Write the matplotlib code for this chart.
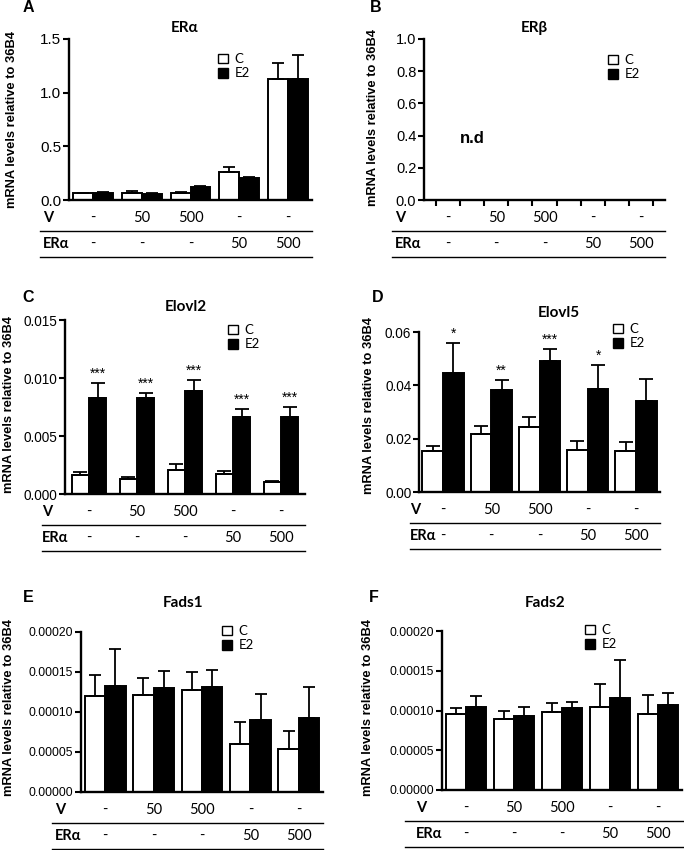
import numpy as np
import matplotlib
matplotlib.use('Agg')
import matplotlib.pyplot as plt
from matplotlib.patches import Patch
from matplotlib.lines import Line2D
from matplotlib import transforms

plt.rcParams['font.family'] = ['Liberation Sans', 'DejaVu Sans']

W, H = 684, 850

# ---------------- data ----------------
series_names = ['C', 'E2']
v_labels = ['-', '50', '500', '-', '-']
era_labels = ['-', '-', '-', '50', '500']

era_c = [0.062, 0.068, 0.065, 0.26, 1.13]
era_c_err = [0.004, 0.018, 0.006, 0.045, 0.15]
era_e2 = [0.068, 0.059, 0.117, 0.205, 1.13]
era_e2_err = [0.003, 0.003, 0.013, 0.006, 0.225]

elovl2_c = [0.00164, 0.0013, 0.0021, 0.0017, 0.0010]
elovl2_c_err = [0.00026, 0.0002, 0.0005, 0.0003, 0.0001]
elovl2_e2 = [0.0083, 0.00825, 0.0089, 0.0066, 0.0066]
elovl2_e2_err = [0.0013, 0.0005, 0.0009, 0.00076, 0.0009]
elovl2_stars = ['***', '***', '***', '***', '***']

elovl5_c = [0.0155, 0.0216, 0.0244, 0.0159, 0.0154]
elovl5_c_err = [0.0018, 0.0032, 0.0036, 0.0034, 0.0032]
elovl5_e2 = [0.0448, 0.0381, 0.0490, 0.0386, 0.0343]
elovl5_e2_err = [0.0111, 0.0038, 0.0045, 0.0092, 0.0082]
elovl5_stars = ['*', '**', '***', '*', '']

fads1_c = [1.20e-4, 1.21e-4, 1.28e-4, 0.60e-4, 0.54e-4]
fads1_c_err = [0.26e-4, 0.22e-4, 0.22e-4, 0.27e-4, 0.22e-4]
fads1_e2 = [1.33e-4, 1.30e-4, 1.31e-4, 0.90e-4, 0.92e-4]
fads1_e2_err = [0.46e-4, 0.21e-4, 0.22e-4, 0.33e-4, 0.39e-4]

fads2_c = [0.956e-4, 0.893e-4, 0.977e-4, 1.045e-4, 0.958e-4]
fads2_c_err = [0.08e-4, 0.105e-4, 0.12e-4, 0.29e-4, 0.24e-4]
fads2_e2 = [1.044e-4, 0.931e-4, 1.031e-4, 1.160e-4, 1.075e-4]
fads2_e2_err = [0.143e-4, 0.117e-4, 0.076e-4, 0.48e-4, 0.14e-4]

# ---------------- figure ----------------
fig = plt.figure(figsize=(W / 100, H / 100), dpi=100)
CAL = ['Lato', 'Noto Sans', 'DejaVu Sans']


def fx(x):
    return x / W


def fy(y):
    return 1 - y / H


def panel(rect, title, title_xy, letter, letter_xy, ylabel_xy, legend_xy,
          row_x, line_x0, line_x1, ylim, yticks, yfmt, tick_fs,
          c=None, c_err=None, e2=None, e2_err=None, width=0.42,
          stars=None, capsize=4, bar_ticks=False, nd=False):
    x0, x1, yt, yb = rect
    ax = fig.add_axes([fx(x0), fy(yb), (x1 - x0) / W, (yb - yt) / H])
    x = np.arange(len(v_labels))
    ax.set_xlim(-0.5, len(v_labels) - 0.5)
    ax.set_ylim(*ylim)
    if c is not None:
        ax.bar(x - width / 2, c, width, color='white', edgecolor='black',
               linewidth=1.4, zorder=2)
        ax.bar(x + width / 2, e2, width, color='black', edgecolor='black',
               linewidth=1.4, zorder=2)
        ax.errorbar(x - width / 2, c, yerr=[np.zeros(len(c)), c_err], fmt='none',
                    ecolor='black', elinewidth=1.3, capsize=capsize, capthick=1.3,
                    zorder=3)
        ax.errorbar(x + width / 2, e2, yerr=[np.zeros(len(e2)), e2_err], fmt='none',
                    ecolor='black', elinewidth=1.3, capsize=capsize, capthick=1.3,
                    zorder=3)
    if stars is not None:
        for i, s in enumerate(stars):
            if s:
                ax.annotate(s, xy=(x[i] + width / 2, e2[i] + e2_err[i]),
                            xytext=(0, 1.5), textcoords='offset points',
                            ha='center', va='bottom', fontsize=10)
    for s in ['top', 'right']:
        ax.spines[s].set_visible(False)
    for s in ['left', 'bottom']:
        ax.spines[s].set_linewidth(1.7)
    ax.set_yticks(yticks)
    ax.set_yticklabels([yfmt.format(v) for v in yticks])
    ax.tick_params(axis='y', direction='out', length=4, width=1.5,
                   labelsize=tick_fs, pad=1.5)
    if bar_ticks:
        ax.set_xticks(np.concatenate([x - 0.25, x + 0.25]))
        ax.tick_params(axis='x', direction='out', length=4, width=1.5,
                       labelbottom=False)
    else:
        ax.tick_params(axis='x', bottom=False, labelbottom=False)
    if nd:
        ax.text(0.5, 0.385, 'n.d', ha='center', va='center', fontsize=12,
                fontweight='bold')

    # legend
    handles = [Patch(facecolor='white', edgecolor='black', linewidth=1.0),
               Patch(facecolor='black', edgecolor='black', linewidth=1.0)]
    ax.legend(handles, series_names, loc='upper left',
              bbox_to_anchor=(fx(legend_xy[0]), fy(legend_xy[1] - 3)),
              bbox_transform=fig.transFigure, frameon=False, borderpad=0,
              borderaxespad=0, handlelength=0.75, handleheight=0.75,
              handletextpad=0.5, labelspacing=0.18,
              prop={'family': CAL, 'size': 9.5})

    # texts
    fig.text(fx(title_xy[0]), fy(title_xy[1]), title, ha='center', va='center',
             fontsize=11, fontweight='bold', family=CAL)
    fig.text(fx(letter_xy[0]), fy(letter_xy[1]), letter, ha='center',
             va='center', fontsize=11.5, fontweight='bold')
    fig.text(fx(ylabel_xy[0]), fy(ylabel_xy[1]), 'mRNA levels relative to 36B4',
             ha='center', va='center', rotation=90, fontsize=9.3,
             fontweight='bold')

    # treatment rows
    tr = transforms.blended_transform_factory(ax.transData, fig.transFigure)
    for i in range(len(v_labels)):
        ax.text(x[i], fy(yb + 18), v_labels[i], transform=tr, ha='center',
                va='center', fontsize=10.5, family=CAL, clip_on=False)
        ax.text(x[i], fy(yb + 44), era_labels[i], transform=tr, ha='center',
                va='center', fontsize=10.5, family=CAL, clip_on=False)
    fig.text(fx(row_x), fy(yb + 18), 'V', ha='left', va='center', fontsize=10.5,
             fontweight='bold', family=CAL)
    fig.text(fx(row_x), fy(yb + 44), 'ERα', ha='left', va='center',
             fontsize=10.5, fontweight='bold', family=CAL)
    for off in (31, 57):
        fig.add_artist(Line2D([fx(line_x0), fx(line_x1)],
                              [fy(yb + off), fy(yb + off)],
                              transform=fig.transFigure, color='black', lw=1.0))
    return ax


panel((69, 312, 39, 200), 'ERα', (185, 28), 'A', (28, 8), (12, 120), (218, 56),
      43, 40, 312, (0, 1.5), [0.0, 0.5, 1.0, 1.5], '{:.1f}', 11,
      era_c, era_c_err, era_e2, era_e2_err, width=0.41, capsize=4.5)

panel((424, 665, 39, 200), 'ERβ', (534, 28), 'B', (376, 8), (373, 117), (608, 57),
      395, 392, 665, (0, 1.0), [0.0, 0.2, 0.4, 0.6, 0.8, 1.0], '{:.1f}', 10.5,
      bar_ticks=True, nd=True)

panel((65, 305, 320, 494), 'Elovl2', (186, 307), 'C', (28, 298), (9, 404), (228, 327),
      42, 42, 305, (0, 0.015), [0.0, 0.005, 0.010, 0.015], '{:.3f}', 9.8,
      elovl2_c, elovl2_c_err, elovl2_e2, elovl2_e2_err, width=0.36,
      stars=elovl2_stars, capsize=5)

panel((419, 660, 332, 492), 'Elovl5', (559, 313), 'D', (378, 298), (369, 406), (613, 326),
      410, 410, 660, (0, 0.06), [0.0, 0.02, 0.04, 0.06], '{:.2f}', 9.8,
      elovl5_c, elovl5_c_err, elovl5_e2, elovl5_e2_err, width=0.43,
      stars=elovl5_stars, capsize=5)

panel((81, 323, 632, 792), 'Fads1', (183, 603), 'E', (28, 597), (9, 708), (222, 628),
      55, 52, 323, (0, 0.0002), [0.0, 0.00005, 0.0001, 0.00015, 0.0002], '{:.5f}', 8.8,
      fads1_c, fads1_c_err, fads1_e2, fads1_e2_err, width=0.42, capsize=4)

panel((442, 682, 631, 790), 'Fads2', (545, 603), 'F', (374, 597), (368, 708), (585, 627),
      416, 405, 684, (0, 0.0002), [0.0, 0.00005, 0.0001, 0.00015, 0.0002], '{:.5f}', 8.8,
      fads2_c, fads2_c_err, fads2_e2, fads2_e2_err, width=0.42, capsize=4)

fig.savefig('out.png', dpi=100)
